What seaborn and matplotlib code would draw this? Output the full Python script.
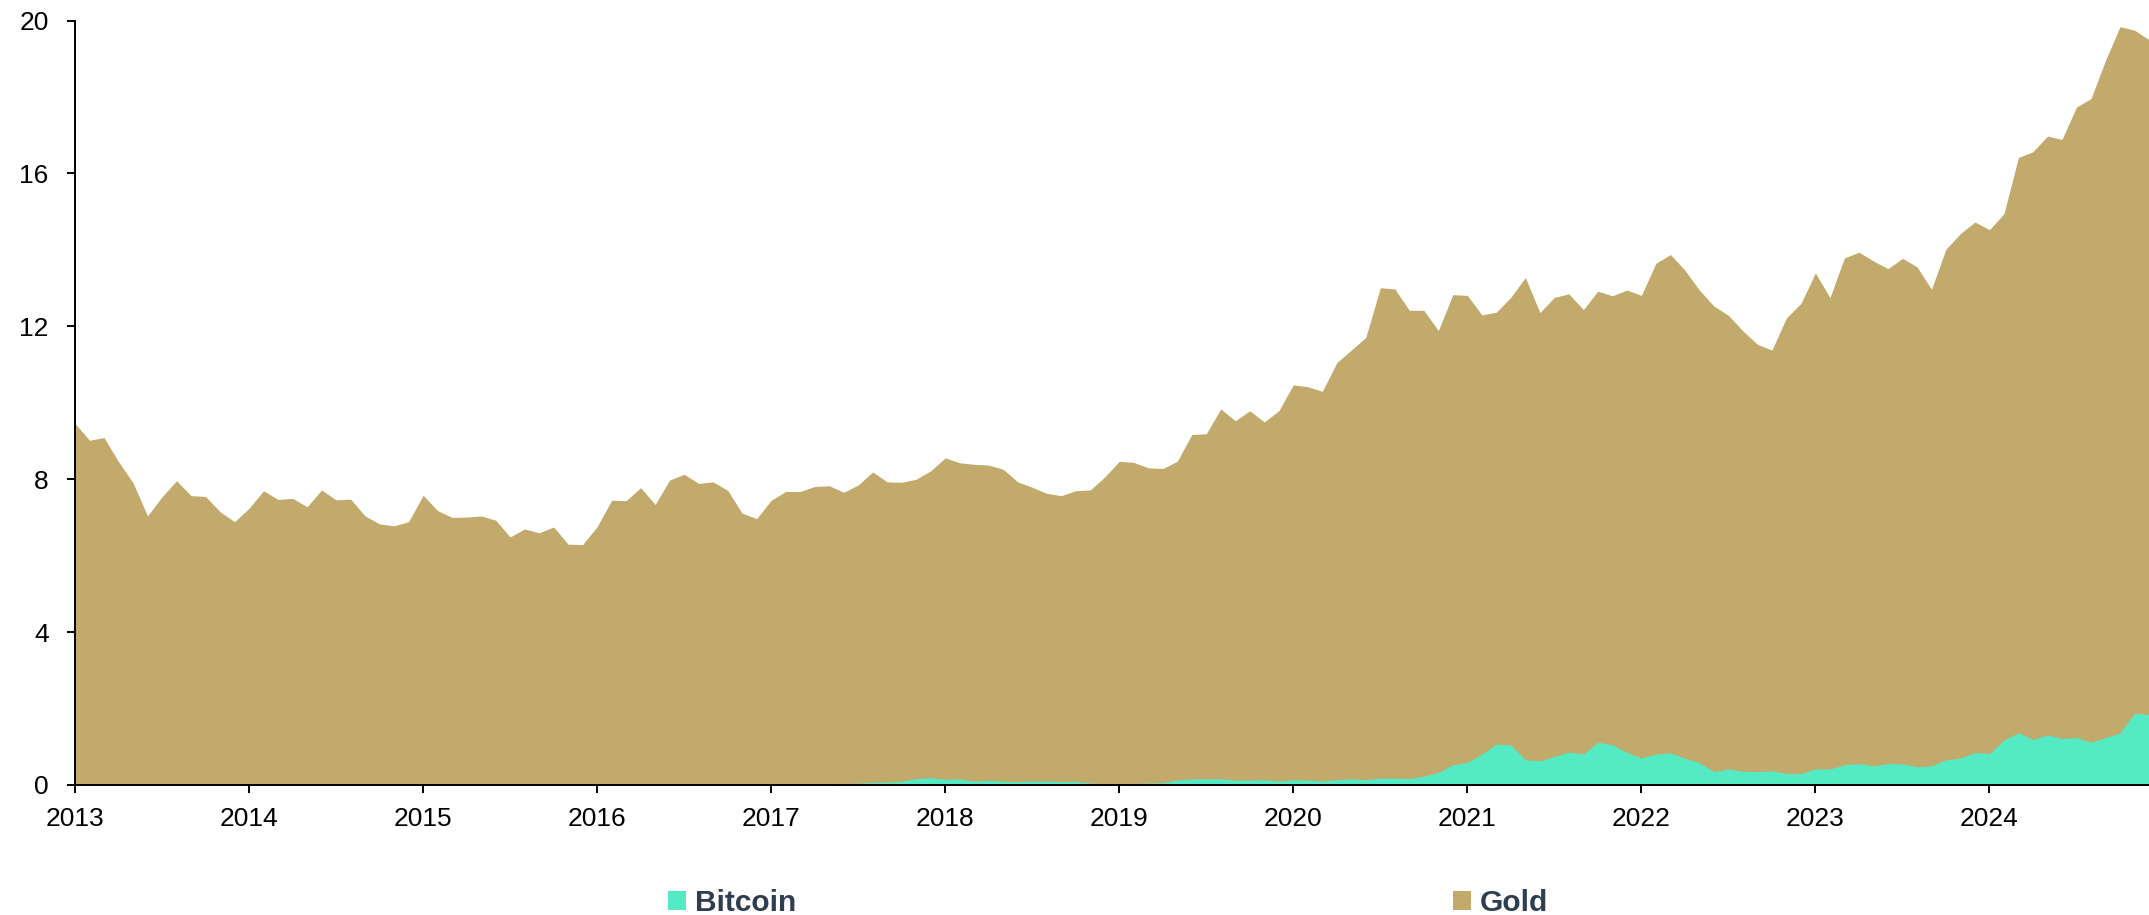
import numpy as np
import pandas as pd
import matplotlib
matplotlib.use("Agg")
import matplotlib.pyplot as plt
from matplotlib.patches import Patch
import seaborn as sns

# ── data (market value, monthly Jan 2013 - Dec 2024) ──
gold = [
    9.46, 9.02, 9.09, 8.46, 7.91, 7.04, 7.54, 7.96, 7.57, 7.55, 7.15, 6.89,
    7.24, 7.70, 7.47, 7.50, 7.28, 7.72, 7.46, 7.48, 7.04, 6.83, 6.78, 6.89,
    7.58, 7.18, 7.00, 7.01, 7.04, 6.93, 6.49, 6.70, 6.60, 6.75, 6.30, 6.29,
    6.76, 7.45, 7.44, 7.78, 7.34, 7.98, 8.13, 7.89, 7.93, 7.71, 7.11, 6.97,
    7.45, 7.68, 7.68, 7.81, 7.83, 7.66, 7.85, 8.19, 7.93, 7.92, 8.00, 8.22,
    8.56, 8.43, 8.39, 8.37, 8.26, 7.93, 7.79, 7.63, 7.57, 7.70, 7.72, 8.06,
    8.47, 8.44, 8.30, 8.28, 8.47, 9.17, 9.19, 9.84, 9.53, 9.79, 9.50, 9.79,
    10.47, 10.42, 10.30, 11.05, 11.38, 11.71, 13.01, 12.98, 12.42, 12.42, 11.89, 12.83,
    12.81, 12.30, 12.37, 12.76, 13.28, 12.36, 12.76, 12.85, 12.44, 12.92, 12.80, 12.95,
    12.81, 13.65, 13.88, 13.47, 12.95, 12.53, 12.29, 11.88, 11.53, 11.38, 12.22, 12.60,
    13.40, 12.75, 13.79, 13.94, 13.71, 13.51, 13.78, 13.56, 12.97, 14.02, 14.43, 14.73,
    14.53, 14.95, 16.42, 16.57, 16.98, 16.89, 17.74, 17.96, 18.96, 19.84, 19.75, 19.50,
]

bitcoin = [
    0.0002, 0.0004, 0.001, 0.0015, 0.0013, 0.001, 0.001, 0.0012, 0.0015, 0.002, 0.006, 0.009,
    0.009, 0.007, 0.006, 0.006, 0.007, 0.008, 0.007, 0.006, 0.005, 0.005, 0.005, 0.004,
    0.003, 0.003, 0.004, 0.003, 0.003, 0.004, 0.004, 0.003, 0.003, 0.004, 0.005, 0.006,
    0.005, 0.006, 0.006, 0.007, 0.008, 0.011, 0.010, 0.009, 0.010, 0.011, 0.012, 0.015,
    0.016, 0.019, 0.018, 0.020, 0.030, 0.040, 0.045, 0.070, 0.075, 0.10, 0.17, 0.19,
    0.15, 0.16, 0.10, 0.12, 0.10, 0.09, 0.10, 0.10, 0.09, 0.09, 0.05, 0.035,
    0.03, 0.04, 0.05, 0.06, 0.13, 0.16, 0.16, 0.16, 0.13, 0.13, 0.14, 0.10,
    0.14, 0.13, 0.10, 0.14, 0.16, 0.14, 0.18, 0.18, 0.17, 0.23, 0.33, 0.53,
    0.59, 0.81, 1.07, 1.05, 0.66, 0.63, 0.75, 0.86, 0.81, 1.12, 1.05, 0.85,
    0.71, 0.81, 0.84, 0.70, 0.58, 0.35, 0.42, 0.36, 0.35, 0.37, 0.30, 0.30,
    0.42, 0.42, 0.53, 0.56, 0.50, 0.56, 0.55, 0.48, 0.50, 0.66, 0.71, 0.85,
    0.82, 1.18, 1.37, 1.19, 1.31, 1.22, 1.24, 1.12, 1.24, 1.36, 1.88, 1.84,
]

years = list(range(2013, 2025))
y_ticks = [0, 4, 8, 12, 16, 20]

GOLD_COLOR = "#C2A96C"
BTC_COLOR = "#54EAC4"
LEGEND_TEXT = "#2E3D4F"

months = pd.date_range("2013-01-01", periods=len(gold), freq="MS")
df = pd.DataFrame({
    "t": months.year + (months.month - 1) / 12,
    "Gold": gold,
    "Bitcoin": bitcoin,
})

# ── style ──
sns.set_theme(style="ticks")
plt.rcParams["font.family"] = ["Liberation Sans", "DejaVu Sans"]

fig = plt.figure(figsize=(21.49, 9.15), dpi=100)
ax = fig.add_axes([75 / 2149, 1 - 785 / 915, 1 - 75 / 2149, (785 - 20.6) / 915])

ax.fill_between(df["t"], 0, df["Gold"], color=GOLD_COLOR, linewidth=0)
ax.fill_between(df["t"], 0, df["Bitcoin"], color=BTC_COLOR, linewidth=0)

ax.set_xlim(df["t"].iloc[0], df["t"].iloc[-1])
ax.set_ylim(0, 20)
ax.set_xticks(years)
ax.set_xticklabels([str(y) for y in years])
ax.set_yticks(y_ticks)
ax.set_xlabel("")
ax.set_ylabel("")

sns.despine(ax=ax)
for side in ("left", "bottom"):
    ax.spines[side].set_color("black")
    ax.spines[side].set_linewidth(1.4)
ax.tick_params(axis="both", colors="black", labelsize=19, length=6, width=1.4)
ax.tick_params(axis="y", pad=13)
ax.tick_params(axis="x", pad=10)

# ── legend ──
handles = [Patch(facecolor=BTC_COLOR, edgecolor="none"),
           Patch(facecolor=GOLD_COLOR, edgecolor="none")]
leg = fig.legend(
    handles, ["Bitcoin", "Gold"],
    loc="center", bbox_to_anchor=(0.5155, 0.0135), ncol=2, frameon=False,
    prop={"weight": "bold", "size": 21.5}, labelcolor=LEGEND_TEXT,
    handlelength=0.6, handleheight=0.6, handletextpad=0.3, columnspacing=22.0,
    borderaxespad=0, borderpad=0,
)

fig.savefig("out.png", dpi=100)
